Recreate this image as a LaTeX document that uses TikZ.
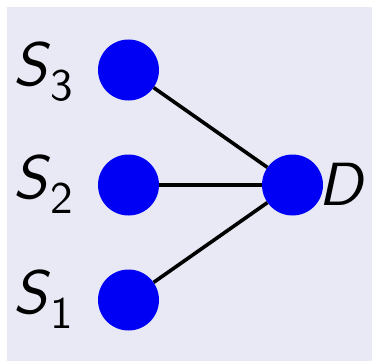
\documentclass[tikz,border=0pt]{standalone}
\usepackage{fontspec}
\setsansfont{lmsans10-regular.otf}[ItalicFont=lmsans10-oblique.otf]
\definecolor{bgc}{RGB}{232,233,245}
\definecolor{dotblue}{RGB}{0,0,245}
\tikzset{
  dot/.style={circle, fill=dotblue, minimum size=61pt, inner sep=0pt, draw=none},
  link/.style={line width=3.6pt, black},
  lbl/.style={anchor=base west, inner sep=0pt, font=\fontsize{61}{64}\selectfont\sffamily}
}
\newcommand{\mysub}[1]{\kern3pt\raisebox{-15pt}{\fontsize{45}{46}\selectfont\upshape #1}}
\begin{document}
\begin{tikzpicture}[x=1pt,y=-1pt]
\useasboundingbox (0,0) rectangle (372,361);
\fill[bgc] (7,7) rectangle (372,361);
\node[dot] (s3) at (128.5,70) {};
\node[dot] (s2) at (128.5,185) {};
\node[dot] (s1) at (128.5,300) {};
\node[dot] (d) at (292.5,185) {};
\draw[link] (s3) -- (d);
\draw[link] (s2) -- (d);
\draw[link] (s1) -- (d);
\node[lbl] (l3) at (13,85) {\itshape S\mysub{3}};
\node[lbl] (l2) at (13,198) {\itshape S\mysub{2}};
\node[lbl] (l1) at (13,313) {\itshape S\mysub{1}};
\node[lbl] (ld) at (318,205) {\itshape D};
\end{tikzpicture}
\end{document}
